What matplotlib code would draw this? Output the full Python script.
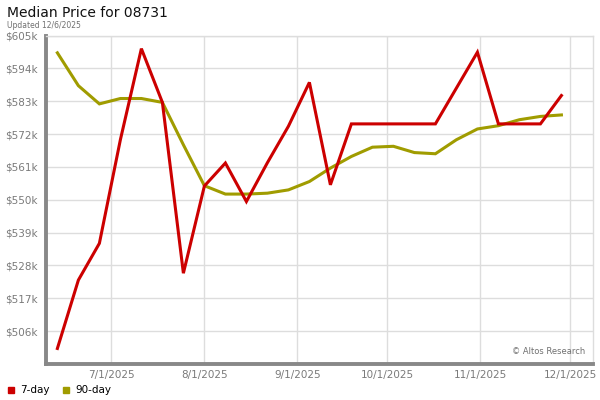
import numpy as np
import pandas as pd
import matplotlib
matplotlib.use('Agg')
import matplotlib.pyplot as plt
import matplotlib.dates as mdates
from matplotlib.lines import Line2D

# weekly points, 6/13/2025 .. 11/28/2025
dates = pd.date_range('2025-06-13', periods=25, freq='7D')

price_7day = [500.2, 523.1, 535.4, 570.1, 600.6, 582.6, 525.4, 554.6, 562.3, 549.4,
              562.4, 574.6, 589.3, 555.0, 575.4, 575.4, 575.4, 575.4, 575.4, 587.4,
              599.4, 575.4, 575.4, 575.4, 584.9]
price_90day = [599.2, 588.2, 582.1, 583.9, 583.9, 582.6, 568.4, 554.7, 551.9, 551.9,
               552.2, 553.3, 556.1, 560.6, 564.5, 567.6, 567.9, 565.8, 565.4, 570.1,
               573.7, 574.8, 576.8, 577.9, 578.4]

y_ticks = [506, 517, 528, 539, 550, 561, 572, 583, 594, 605]
x_ticks = ['2025-07-01', '2025-08-01', '2025-09-01', '2025-10-01', '2025-11-01', '2025-12-01']

red = '#cc0000'
olive = '#a09c00'

fig = plt.figure(figsize=(6, 4), dpi=100)
ax = fig.add_axes([45.5 / 600, 1 - 364 / 400, (593.3 - 45.5) / 600, (364 - 35.5) / 400])

ax.plot(dates, price_90day, color=olive, lw=2.2, solid_joinstyle='miter', zorder=3)
ax.plot(dates, price_7day, color=red, lw=2.2, solid_joinstyle='miter', zorder=4)

ax.set_ylim(495, 605)
ax.set_xlim(pd.Timestamp('2025-06-09 01:00'), pd.Timestamp('2025-12-08 15:00'))
ax.set_yticks(y_ticks)
ax.set_yticklabels([f'${v}k' for v in y_ticks])
ax.set_xticks([pd.Timestamp(d) for d in x_ticks])
ax.set_xticklabels([pd.Timestamp(d).strftime('%-m/%-d/%Y') for d in x_ticks])
ax.grid(True, color='#dddddd', lw=1)
ax.set_axisbelow(True)
ax.tick_params(length=0, labelsize=7.5, labelcolor='#7a7a7a')
ax.tick_params(axis='y', pad=5.5)
ax.tick_params(axis='x', pad=4)

for s in ['top', 'right']:
    ax.spines[s].set_color('#dddddd')
    ax.spines[s].set_linewidth(1)
for s in ['left', 'bottom']:
    ax.spines[s].set_color('#888888')
    ax.spines[s].set_linewidth(2.8)

ax.text(0.985, 0.025, '\u00a9 Altos Research', transform=ax.transAxes,
        ha='right', va='bottom', fontsize=6, color='#707070')

fig.text(7 / 600, 1 - 13 / 400, 'Median Price for 08731', fontsize=10,
         ha='left', va='center', color='#111111')
fig.text(7 / 600, 1 - 25 / 400, 'Updated 12/6/2025', fontsize=5.5,
         ha='left', va='center', color='#707070')

handles = [Line2D([], [], ls='', marker='s', ms=4.5, color=red),
           Line2D([], [], ls='', marker='s', ms=4.5, color=olive)]
fig.legend(handles, ['7-day', '90-day'], loc='lower left', bbox_to_anchor=(-0.005, -0.012),
           ncol=2, frameon=False, fontsize=7.5, handlelength=0.8, handletextpad=0.5,
           columnspacing=1.2)

fig.savefig('out.png', dpi=100)
